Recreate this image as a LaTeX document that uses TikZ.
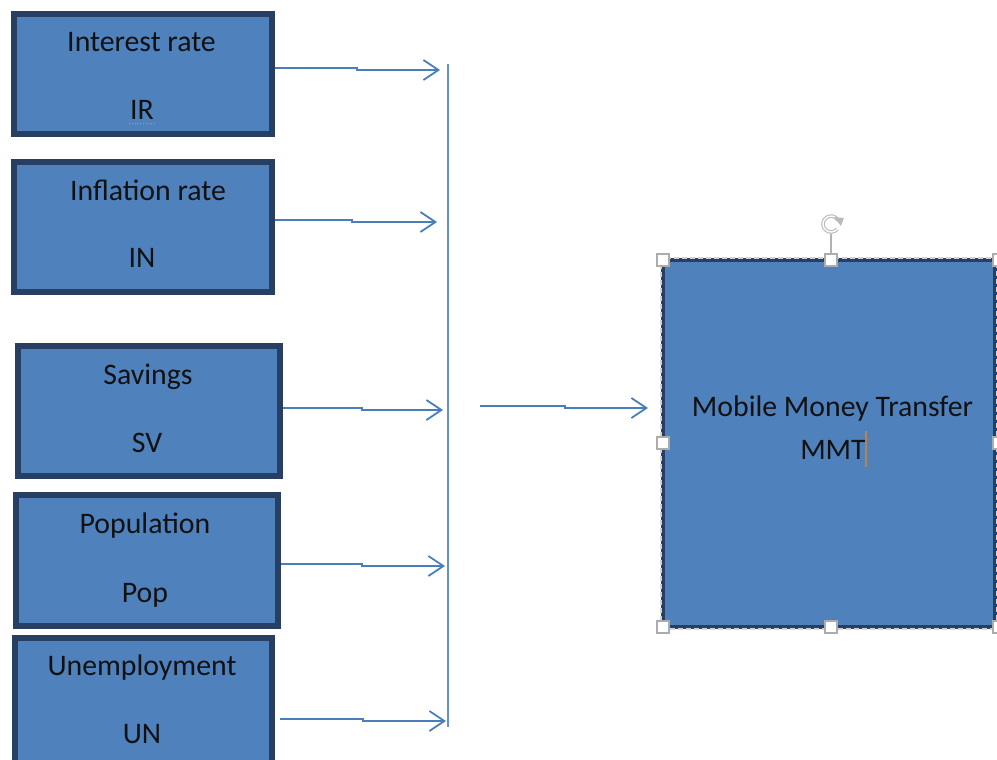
\documentclass[tikz,border=0pt]{standalone}
\usepackage{fontspec}
\setmainfont{Carlito}
\usetikzlibrary{arrows.meta}
\definecolor{boxfill}{HTML}{4F81BD}
\definecolor{boxedge}{HTML}{263F63}
\definecolor{connclr}{HTML}{4A7EBB}
\definecolor{txtclr}{HTML}{111111}
\definecolor{cursorclr}{HTML}{B8834E}
\tikzset{
  varbox/.style={rectangle, draw=boxedge, line width=6pt, fill=boxfill, inner sep=0pt},
  mmtbox/.style={rectangle, draw=boxedge, line width=4pt, fill=boxfill, inner sep=0pt},
  lbl/.style={anchor=base, inner sep=0pt, text=txtclr, font=\fontsize{29.8}{35}\selectfont},
  conn/.style={draw=connclr, line width=1.8pt,
    -{Straight Barb[length=15pt,width=20pt,line width=1.8pt]}},
  busline/.style={draw=connclr!85, line width=2pt},
  handle/.style={rectangle, minimum size=12pt, inner sep=0pt, fill=white, draw=gray!65, line width=1.3pt},
}
\begin{document}
\begin{tikzpicture}[x=1pt, y=-1pt]
\useasboundingbox (0,0) rectangle (997,760);

% input variable boxes
\node[varbox, minimum width=258pt, minimum height=120pt] (ir)  at (143,74)    {};
\node[varbox, minimum width=258pt, minimum height=130pt] (in)  at (143,227)   {};
\node[varbox, minimum width=262pt, minimum height=130pt] (sv)  at (149,411)   {};
\node[varbox, minimum width=262pt, minimum height=131pt] (pop) at (147,560.5) {};
\node[varbox, minimum width=257pt, minimum height=152pt] (un)  at (143.5,714) {};

% box labels
\node[lbl] (irA)  at (141.5,52) {Interest rate};
\node[lbl] (irB)  at (142,119)  {IR};
\node[lbl] (inA)  at (148,200)  {Inflation rate};
\node[lbl] (inB)  at (142,267)  {IN};
\node[lbl] (svA)  at (148,384)  {Savings};
\node[lbl] (svB)  at (147,452)  {SV};
\node[lbl] (popA) at (145,533)  {Population};
\node[lbl] (popB) at (145,602)  {Pop};
\node[lbl] (unA)  at (142,675)  {Unemployment};
\node[lbl] (unB)  at (142,743)  {UN};

% spell-check mark under IR
\draw[red!55, line width=0.8pt, dotted] (129,123) -- (156,123);

% collecting bus line and arrow tips on it
\coordinate (busTop) at (448,64);
\coordinate (busBot) at (448,727);
\draw[busline] (busTop) -- (busBot);
\coordinate (t1) at (440,70);
\coordinate (t2) at (437,222);
\coordinate (t3) at (443,410);
\coordinate (t4) at (445,566);
\coordinate (t5) at (446,721);

% connectors from each box to the bus
\draw[conn] ([yshift=6pt]ir.east)    -- ++(82,0) -- ++(0,2) -- (t1);
\draw[conn] ([yshift=7pt]in.east)    -- ++(77,0) -- ++(0,2) -- (t2);
\draw[conn] ([yshift=3pt]sv.east)    -- ++(79,0) -- ++(0,2) -- (t3);
\draw[conn] ([yshift=-3.5pt]pop.east) -- ++(81,0) -- ++(0,2) -- (t4);
\draw[conn] ([xshift=5pt,yshift=-5pt]un.east) -- ++(83,0) -- ++(0,2) -- (t5);

% outcome box (shown selected)
\node[mmtbox, minimum width=332pt, minimum height=367pt] (mmt) at (829,443.5) {};
\draw[gray!35, line width=1.2pt, dash pattern=on 5pt off 3pt]
  (mmt.south west) rectangle (mmt.north east);
\node[lbl] (mmtA) at (832.5,416) {Mobile Money Transfer};
\node[lbl] (mmtB) at (833,459)   {MMT};
\draw[cursorclr, line width=1.2pt] (866,431) -- (866,467);

% connector from the bus to the outcome box
\coordinate (busOut) at (480,406);
\coordinate (mmtIn)  at (648,408);
\draw[conn] (busOut) -- ++(85,0) -- ++(0,2) -- (mmtIn);

% selection handles
\node[handle] (h1) at (663,260) {};
\node[handle] (h2) at (831,260) {};
\node[handle] (h3) at (999,260) {};
\node[handle] (h4) at (663,443) {};
\node[handle] (h5) at (999,443) {};
\node[handle] (h6) at (663,627) {};
\node[handle] (h7) at (831,627) {};
\node[handle] (h8) at (999,627) {};

% rotation handle
\coordinate (rot) at (831,224);
\draw[gray!60, line width=1.4pt] (h2.north) -- (831,234);
\draw[gray!55, line width=3.6pt] ([shift={(40:8)}]rot) arc[start angle=40, end angle=330, radius=8];
\draw[white, line width=1.4pt] ([shift={(40:8)}]rot) arc[start angle=40, end angle=330, radius=8];
\fill[gray!55] ([shift={(330:8)}]rot) ++(-4,-3) -- ++(10,1) -- ++(-3,8) -- cycle;
\end{tikzpicture}
\end{document}
